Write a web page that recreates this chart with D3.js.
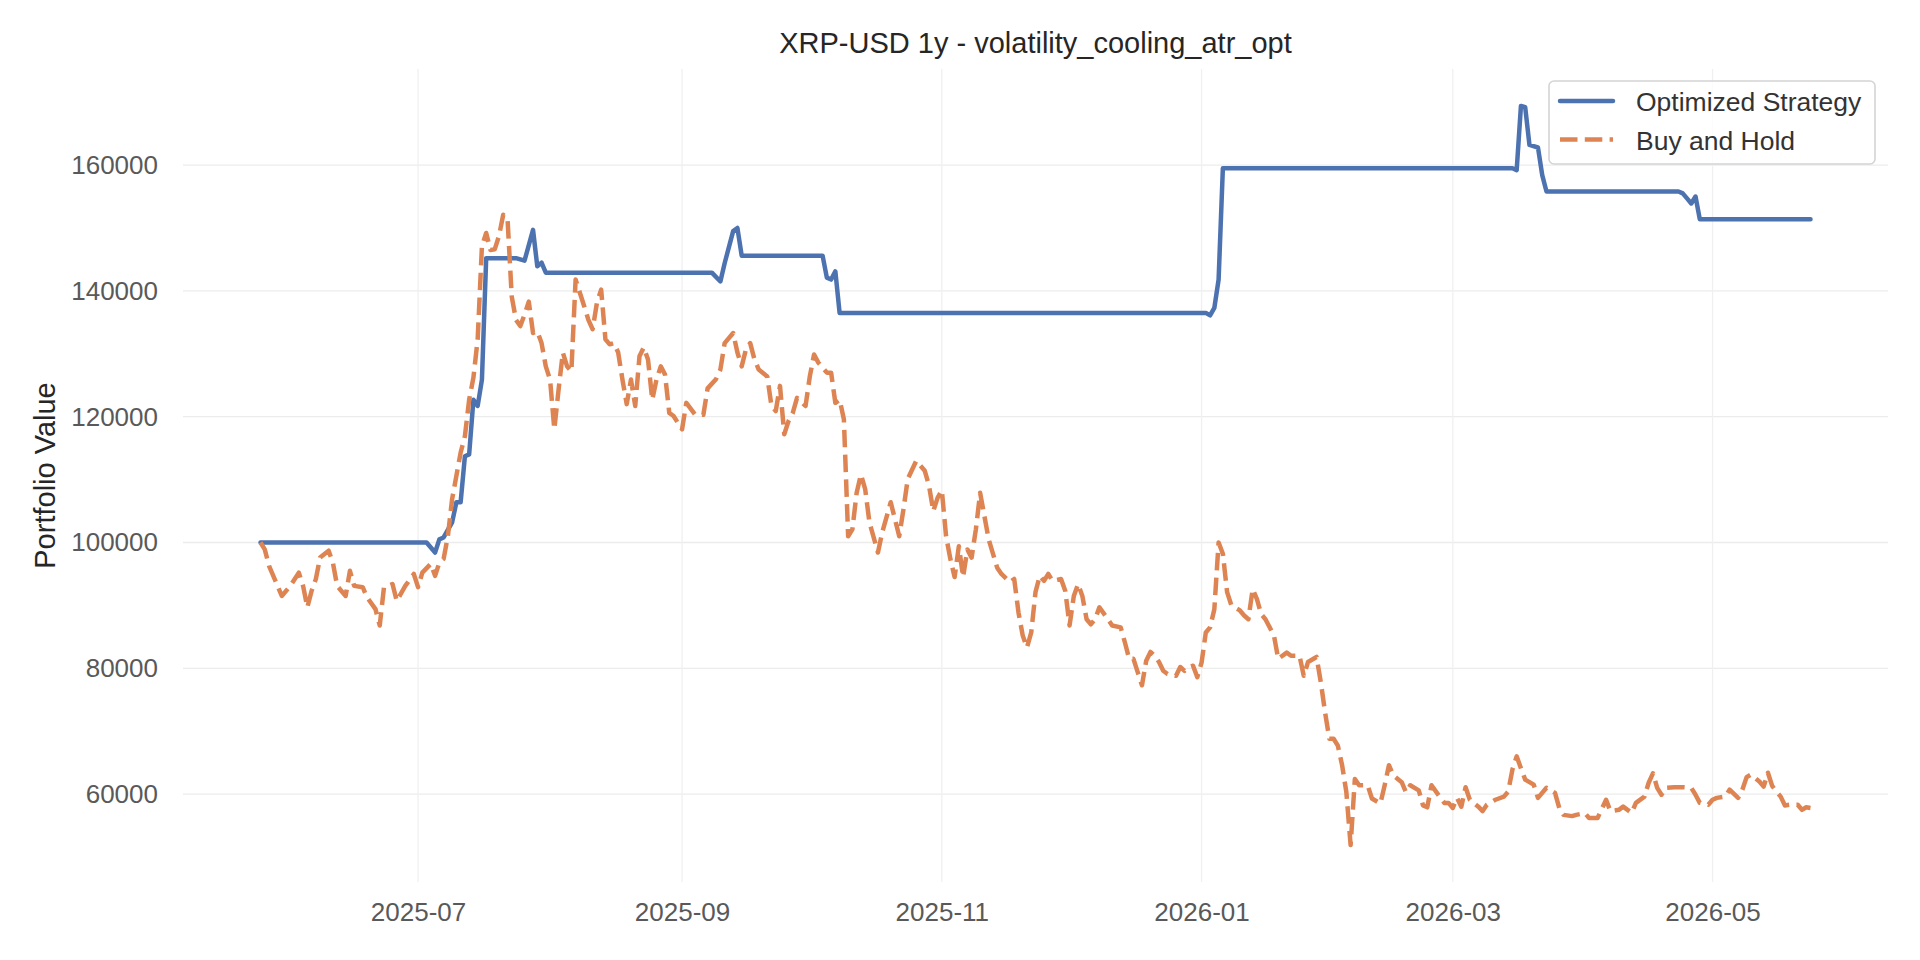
<!DOCTYPE html>
<html>
<head>
<meta charset="utf-8">
<script src="https://cdn.jsdelivr.net/npm/d3@7"></script>
<style>
  html, body { margin: 0; padding: 0; background: #fff; }
  svg { display: block; font-family: "Liberation Sans", Arial, sans-serif; }
</style>
</head>
<body>
<div id="chart"></div>
<script>
// days counted from the first date of the backtest
const startDate = "2025-05-25";

const bhDay = [0,1,2,5,7,9,10,11,12,13,14,16,17,18,20,21,22,24,25,27,28,29,31,32,34,36,37,38,40,41,42,43,44,45,47,48,49,50,51,52,53,54,55,56,57,58,59,60,61,62,63,64,65,66,67,68,69,70,71,72,73,74,75,76,77,78,79,80,81,82,83,84,85,86,87,88,89,90,91,92,93,94,95,96,97,99,100,102,104,105,107,108,109,111,112,113,114,115,116,117,119,120,121,122,123,124,125,126,128,129,130,131,133,134,135,136,137,138,139,140,141,142,143,145,146,148,149,150,151,152,154,156,157,158,159,160,161,162,163,164,165,166,167,168,169,170,171,173,174,176,177,178,179,180,181,182,183,184,185,186,188,189,190,191,192,193,194,195,196,197,199,200,202,203,204,205,206,207,208,209,210,211,212,213,215,216,217,218,219,220,221,222,223,224,225,226,227,228,230,231,232,233,234,235,236,238,239,241,242,244,245,246,248,249,250,251,252,253,254,255,256,257,258,260,261,263,264,265,266,268,269,270,272,273,274,275,277,278,279,280,281,282,283,284,286,287,288,290,292,293,294,295,296,297,299,300,302,304,305,306,308,309,311,312,314,316,317,319,320,322,323,325,326,327,328,329,330,332,334,336,337,338,340,341,342,344,345,347,348,349,350,352,353,354,355,356,357,358,359,361,362,363,364];

const bhValue = [100000,98900,96300,91500,93100,95200,93100,89700,92300,94200,97600,98700,96800,93100,91500,95500,93100,92900,91300,89400,86800,92900,93400,90700,93100,95000,92900,95200,96600,94700,96800,97400,101000,106900,114300,116900,122700,126200,132300,147100,149200,146500,146600,148700,152100,151600,139100,135400,134400,136200,138300,133300,133600,131700,128000,125900,118000,124300,130200,128000,127200,141800,139700,137600,135400,133900,138100,140200,132300,131500,131700,130200,125900,122000,125900,121700,129600,131000,129100,122700,125900,128000,126700,120600,120100,118000,122200,120400,120300,124500,126000,127500,131700,133300,130200,128000,130700,131700,129100,127500,126400,121700,120900,124900,117200,119300,120600,123000,121700,126400,129900,128600,127000,127000,122200,122700,119600,101000,102100,107900,110800,108500,103200,98400,101600,106400,103700,101000,105300,110100,113000,111400,109000,105000,107100,108300,101000,97400,94500,99400,94500,98900,97600,102100,107900,104200,100500,96000,95000,93700,94200,88900,85200,83300,85700,92100,94700,93900,95000,93900,94200,92300,86800,91500,93400,91500,87800,87000,87800,89700,87800,86800,86500,84100,81500,81500,79400,77300,81200,82600,82000,81000,79600,79100,78800,80200,79600,80200,80400,78600,80900,85700,86500,89400,100000,98200,92100,90000,89200,88400,87800,92600,91000,88600,87800,85200,81500,82500,82000,82000,78800,81000,81800,77800,73000,68800,68800,67700,64600,60300,51900,62400,61400,61400,59300,58500,61400,64600,63000,61900,60300,61400,60600,58200,57900,61400,59500,58600,58600,57800,59400,58000,61100,59100,58000,57300,58300,59100,59600,60400,63900,66000,64100,62300,61500,59400,61000,60200,57800,56700,56500,56700,57000,56200,56200,59100,57300,57500,58000,57000,58600,59600,61800,63300,61000,59900,61000,61100,61100,61000,59900,58600,58300,59100,59400,59600,60700,59400,60700,62700,63100,62000,61200,63400,61300,60400,59600,58200,58300,58300,57500,57900,57800];

const stratDay = [0,39,41,42,43,45,46,47,48,49,50,51,52,53,60,62,64,65,66,67,106,108,109,111,112,113,132,133,134,135,136,222,223,224,225,226,294,295,296,297,298,300,301,302,333,334,335,336,337,338,364];

const stratValue = [100000,100000,98400,100500,100800,103200,106400,106400,113700,114000,122700,121700,125900,145200,145200,144800,149700,143900,144500,142900,142900,141500,144400,149500,150000,145600,145600,142100,141800,143100,136500,136500,136100,137300,141800,159500,159500,159200,169400,169200,163200,162800,158400,155800,155800,155500,154700,153900,155000,151400,151400];

const xTickLabels = ["2025-07", "2025-09", "2025-11", "2026-01", "2026-03", "2026-05"];
const yTicks = [60000, 80000, 100000, 120000, 140000, 160000];
const seriesNames = ["Optimized Strategy", "Buy and Hold"];
const seriesColors = ["#4C72B0", "#DD8452"];
const chartTitle = "XRP-USD 1y - volatility_cooling_atr_opt";
const yTitle = "Portfolio Value";

const width = 1920, height = 960;
const margin = {top: 69, right: 32, bottom: 78, left: 183};
const w = width - margin.left - margin.right;
const h = height - margin.top - margin.bottom;
const lw = 4.5;

const parseDay = d3.timeParse("%Y-%m-%d");
const parseMonth = d3.timeParse("%Y-%m");
const start = parseDay(startDate);

const strategy = stratDay.map((d, i) => ({date: d3.timeDay.offset(start, d), value: stratValue[i]}));
const buyHold = bhDay.map((d, i) => ({date: d3.timeDay.offset(start, d), value: bhValue[i]}));

// matplotlib style 5% margins
const xExt = d3.extent(buyHold.concat(strategy), d => +d.date);
const xPad = (xExt[1] - xExt[0]) * 0.05;
const yExt = d3.extent(buyHold.concat(strategy), d => d.value);
const yPad = (yExt[1] - yExt[0]) * 0.05;

const x = d3.scaleTime()
  .domain([new Date(xExt[0] - xPad), new Date(xExt[1] + xPad)])
  .range([0, w]);
const y = d3.scaleLinear()
  .domain([yExt[0] - yPad, yExt[1] + yPad])
  .range([h, 0]);

const svg = d3.select('#chart')
  .append('svg')
  .attr('width', width)
  .attr('height', height);

svg.append('text')
  .attr('x', margin.left + w / 2)
  .attr('y', 53)
  .attr('text-anchor', 'middle')
  .attr('font-size', 29)
  .attr('fill', '#262626')
  .text(chartTitle);

svg.append('text')
  .attr('transform', `translate(55,${margin.top + h / 2}) rotate(-90)`)
  .attr('text-anchor', 'middle')
  .attr('font-size', 29)
  .attr('fill', '#262626')
  .text(yTitle);

const g = svg.append('g')
  .attr('transform', `translate(${margin.left},${margin.top})`);

const xTickDates = xTickLabels.map(parseMonth);

// grid
g.append('g').selectAll('line')
  .data(yTicks)
  .enter().append('line')
    .attr('x1', 0).attr('x2', w)
    .attr('y1', d => y(d)).attr('y2', d => y(d))
    .attr('stroke', '#ececec')
    .attr('stroke-width', 1.3);

g.append('g').selectAll('line')
  .data(xTickDates)
  .enter().append('line')
    .attr('x1', d => x(d)).attr('x2', d => x(d))
    .attr('y1', 0).attr('y2', h)
    .attr('stroke', '#f0f0f0')
    .attr('stroke-width', 1.3);

// axes
const yAxis = g.append('g')
  .call(d3.axisLeft(y).tickValues(yTicks).tickSize(0).tickPadding(25).tickFormat(d3.format('d')));
const xAxis = g.append('g')
  .attr('transform', `translate(0,${h})`)
  .call(d3.axisBottom(x).tickValues(xTickDates).tickSize(0).tickPadding(21).tickFormat(d3.timeFormat('%Y-%m')));

[xAxis, yAxis].forEach(a => {
  a.select('.domain').remove();
  a.selectAll('text')
    .attr('font-size', 26)
    .attr('font-family', '"Liberation Sans", Arial, sans-serif')
    .attr('fill', '#595959');
});

const line = d3.line()
  .x(d => x(d.date))
  .y(d => y(d.value));

g.append('path')
  .datum(strategy)
  .attr('d', line)
  .attr('fill', 'none')
  .attr('stroke', seriesColors[0])
  .attr('stroke-width', lw)
  .attr('stroke-linejoin', 'round')
  .attr('stroke-linecap', 'round');

g.append('path')
  .datum(buyHold)
  .attr('d', line)
  .attr('fill', 'none')
  .attr('stroke', seriesColors[1])
  .attr('stroke-width', lw)
  .attr('stroke-linejoin', 'round')
  .attr('stroke-dasharray', '17.5,7.3');

// legend
const legW = 326, legH = 83;
const legend = svg.append('g')
  .attr('transform', `translate(${margin.left + w - 13 - legW},${margin.top + 12})`);

legend.append('rect')
  .attr('width', legW)
  .attr('height', legH)
  .attr('rx', 5)
  .attr('fill', '#fff')
  .attr('fill-opacity', 0.8)
  .attr('stroke', '#d4d4d4')
  .attr('stroke-width', 1.6);

seriesNames.forEach((name, i) => {
  const row = legend.append('g').attr('transform', `translate(0,${20 + i * 38.5})`);
  row.append('line')
    .attr('x1', 11).attr('x2', 64)
    .attr('stroke', seriesColors[i])
    .attr('stroke-width', lw)
    .attr('stroke-linecap', i === 0 ? 'round' : 'butt')
    .attr('stroke-dasharray', i === 0 ? null : '17.5,7.3');
  row.append('text')
    .attr('x', 87)
    .attr('y', 10)
    .attr('font-size', 26.5)
    .attr('fill', '#333')
    .text(name);
});
</script>
</body>
</html>
